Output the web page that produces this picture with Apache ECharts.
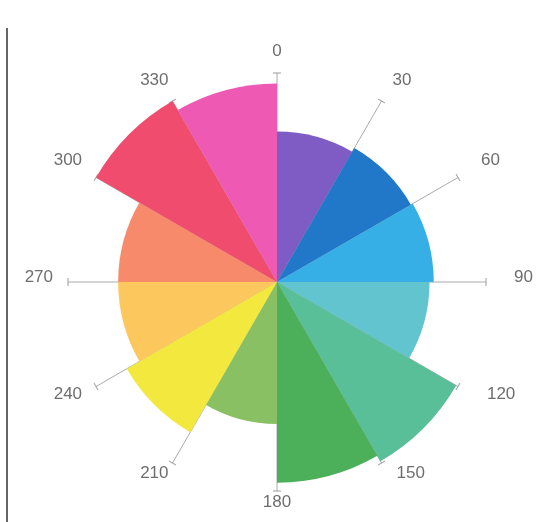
<!DOCTYPE html>
<html>
<head>
<meta charset="utf-8">
<script src="https://cdn.jsdelivr.net/npm/echarts@6/dist/echarts.min.js"></script>
<style>
html,body{margin:0;padding:0;background:#fff;}
#c{width:552px;height:522px;}
</style>
</head>
<body>
<div id="c"></div>
<script>
// Sector categories (30° wedges, clockwise from top)
const sectors = ['0-30','30-60','60-90','90-120','120-150','150-180','180-210','210-240','240-270','270-300','300-330','330-360'];
// Radial length of each wedge (axis max = 10)
const values = [7.2, 7.4, 7.5, 7.3, 9.9, 9.6, 6.8, 8.3, 7.6, 7.6, 10, 9.5];
const colors = ['#7e5cc4','#2178c8','#36aee6','#62c4cf','#58bf98','#4caf5a','#88c063','#f3e93e','#fcc75c','#f88a6c','#f04c6e','#ee5ab3'];
// Angle axis tick labels
const angleTicks = [0,30,60,90,120,150,180,210,240,270,300,330];
const axisMax = 10;

// label spacing style (horizontal padding per label side)
const padRight = {30: 7, 60: 16, 90: 20, 120: 22, 150: 11};
const padLeft = {240: 7, 270: 7, 300: 7};
const rich = {};
angleTicks.forEach(a => {
  rich['a' + a] = {
    color: '#6e6e6e', fontSize: 17, fontFamily: 'Liberation Sans, Arial, sans-serif',
    padding: [0, padLeft[a] || 0, 0, padRight[a] || 0]
  };
});

const chart = echarts.init(document.getElementById('c'));
const center = [277, 282];
const radius = 209;

chart.setOption({
  animation: false,
  polar: [
    {center: center, radius: radius},
    {center: center, radius: radius},
    {center: [277, 277], radius: radius}
  ],
  angleAxis: [
    {
      polarIndex: 0, type: 'category', data: sectors, startAngle: 90, clockwise: true,
      axisLine: {show: false}, axisTick: {show: false}, axisLabel: {show: false}, splitLine: {show: false}, z: 1
    },
    {
      polarIndex: 1, type: 'value', min: 0, max: 360, interval: 30, startAngle: 90, clockwise: true,
      axisLine: {show: false}, axisTick: {show: false}, axisLabel: {show: false},
      splitLine: {show: true, lineStyle: {color: '#aaa', width: 1}},
      z: 0
    },
    {
      polarIndex: 2, type: 'value', min: 0, max: 360, interval: 30, startAngle: 90, clockwise: true,
      axisLine: {show: false}, axisTick: {show: false}, splitLine: {show: false},
      axisLabel: {show: true, margin: 8,
        formatter: v => (v === 360 ? '' : '{a' + v + '|' + v + '}'), rich: rich},
      z: 0
    }
  ],
  radiusAxis: [
    {polarIndex: 0, type: 'value', min: 0, max: axisMax, show: false},
    {polarIndex: 1, type: 'value', min: 0, max: axisMax, show: false},
    {polarIndex: 2, type: 'value', min: 0, max: axisMax, show: false}
  ],
  series: [
    {
      type: 'bar', coordinateSystem: 'polar', polarIndex: 0,
      barCategoryGap: '0%', barGap: '0%',
      data: values.map((v, i) => ({value: v, itemStyle: {color: colors[i]}})),
      itemStyle: {borderWidth: 0},
      z: 3
    },
    {
      type: 'scatter', coordinateSystem: 'polar', polarIndex: 1,
      symbol: 'rect',
      data: angleTicks.map(a => ({value: [axisMax, a], symbolRotate: -a})),
      symbolSize: [8, 1.2],
      itemStyle: {color: '#999'},
      silent: true,
      z: 1
    }
  ],
  graphic: [
    {type: 'line', shape: {x1: 7, y1: 28, x2: 7, y2: 522}, style: {stroke: '#666', lineWidth: 2}}
  ]
});
</script>
</body>
</html>
